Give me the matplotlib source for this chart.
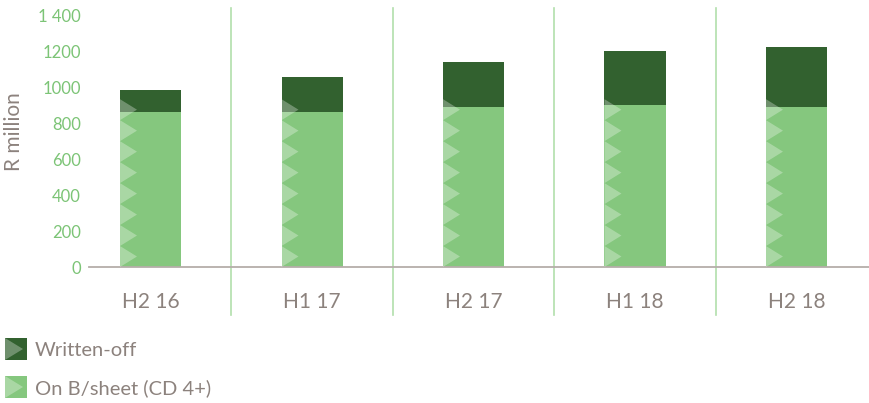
import matplotlib
matplotlib.use("Agg")
import matplotlib.pyplot as plt
from matplotlib.patches import Polygon, Rectangle
import numpy as np

# Impairment / write-off figures, R million
periods = ["H2 16", "H1 17", "H2 17", "H1 18", "H2 18"]
on_sheet = [865, 865, 892, 903, 892]
written_off = [125, 195, 251, 302, 337]
y_ticks = [0, 200, 400, 600, 800, 1000, 1200, 1400]
y_tick_labels = ["0", "200", "400", "600", "800", "1000", "1200", "1 400"]
legend_labels = ["Written-off", "On B/sheet (CD 4+)"]

DARK = "#32612F"
LIGHT = "#85C77E"
TICK_GREEN = "#7CC476"
GREY_TEXT = "#8C827D"
SEP_GREEN = "#B2DFAC"
AXIS_GREY = "#B5AEA9"
FONT = ["Lato", "DejaVu Sans"]

plt.rcParams["font.family"] = FONT

fig = plt.figure(figsize=(8.7, 4.03), dpi=100)
ax = fig.add_axes([89 / 870, (403 - 267) / 403, 781 / 870, 251 / 403])

x = np.arange(len(periods))
bar_w = 0.378
ax.bar(x, on_sheet, width=bar_w, color=LIGHT, zorder=2)
ax.bar(x, written_off, width=bar_w, bottom=on_sheet, color=DARK, zorder=2)

# chevron pattern along the left edge of each column
tri_step = 117
tri_w = 0.105
n_tri = 8
for xi in x:
    left = xi - bar_w / 2
    for k in range(n_tri):
        y0 = k * tri_step
        tri = Polygon([[left, y0], [left + tri_w, y0 + tri_step / 2],
                       [left, y0 + tri_step]], closed=True,
                      facecolor="white", alpha=0.3, edgecolor="none", zorder=3)
        ax.add_patch(tri)

# separators between periods
for xs in x[:-1] + 0.5:
    ax.axvline(xs, ymin=-0.191, ymax=1.032, color=SEP_GREEN, lw=1.2,
               clip_on=False, zorder=1)

ax.set_xlim(-0.381, 4.455)
ax.set_ylim(0, 1400)
ax.set_yticks(y_ticks)
ax.set_yticklabels(y_tick_labels)
ax.set_xticks(x)
ax.set_xticklabels(periods)

for s in ["top", "right", "left"]:
    ax.spines[s].set_visible(False)
ax.spines["bottom"].set_color(AXIS_GREY)
ax.spines["bottom"].set_linewidth(1.3)

ax.tick_params(axis="y", length=0, pad=6, labelsize=12, labelcolor=TICK_GREEN)
ax.tick_params(axis="x", length=0, pad=18, labelsize=15, labelcolor=GREY_TEXT)
ax.set_ylabel("R million", color=GREY_TEXT, fontsize=15)
ax.yaxis.set_label_coords(-0.083, 0.54)

# legend drawn in figure pixel space
def px(xp, yp):
    return xp / 870, 1 - yp / 403

for label, color, ytop in [(legend_labels[0], DARK, 338), (legend_labels[1], LIGHT, 376)]:
    size = 22
    x0, y0 = px(5, ytop + size)
    fig.add_artist(Rectangle((x0, y0), size / 870, size / 403,
                             transform=fig.transFigure, facecolor=color,
                             edgecolor="none"))
    fig.add_artist(Polygon([px(5, ytop), px(23, ytop + size / 2), px(5, ytop + size)],
                           closed=True, transform=fig.transFigure,
                           facecolor="white", alpha=0.3, edgecolor="none"))
    tx, ty = px(35, ytop + size / 2 + 1)
    fig.text(tx, ty, label, color=GREY_TEXT, fontsize=14.5, va="center", ha="left")

fig.savefig("out.png", dpi=100)
